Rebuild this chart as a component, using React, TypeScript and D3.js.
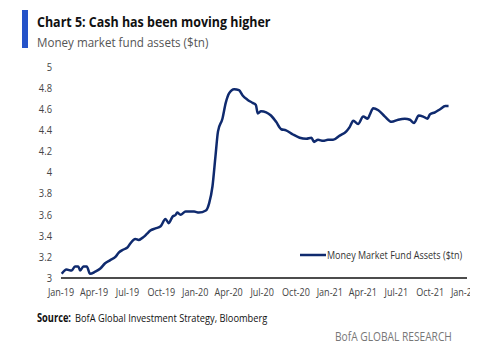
import React, { useEffect, useRef } from "react";
import * as d3 from "d3";

const dates: string[] = [
  "2019-01-03","2019-01-16","2019-01-30","2019-02-08","2019-02-17","2019-02-22","2019-03-03","2019-03-12","2019-03-21",
  "2019-04-04","2019-04-18","2019-05-01","2019-05-15","2019-05-29","2019-06-07","2019-06-20","2019-07-01","2019-07-09",
  "2019-07-22","2019-07-31","2019-08-14","2019-08-23","2019-09-01","2019-09-15","2019-09-29","2019-10-12","2019-10-21",
  "2019-10-31","2019-11-09","2019-11-13","2019-11-22","2019-12-06","2019-12-29","2020-01-11","2020-01-30","2020-02-08",
  "2020-02-17","2020-02-25","2020-03-03","2020-03-15","2020-03-24","2020-04-02","2020-04-16","2020-04-29","2020-05-09",
  "2020-05-22","2020-06-05","2020-06-14","2020-06-19","2020-06-28","2020-07-12","2020-07-25","2020-08-08","2020-08-22",
  "2020-09-04","2020-09-23","2020-10-11","2020-10-29","2020-11-12","2020-11-19","2020-11-30","2020-12-14","2020-12-27",
  "2021-01-10","2021-01-28","2021-02-15","2021-02-24","2021-03-06","2021-03-19","2021-04-02","2021-04-14","2021-04-20",
  "2021-04-29","2021-05-13","2021-05-31","2021-06-18","2021-07-06","2021-07-24","2021-08-07","2021-08-18","2021-08-31",
  "2021-09-12","2021-09-24","2021-09-30","2021-10-14","2021-10-28","2021-11-11","2021-11-20",
];
const assets: number[] = [
  3.04,3.08,3.07,3.11,3.11,3.07,3.11,3.11,3.04,
  3.06,3.09,3.14,3.17,3.20,3.24,3.27,3.29,3.33,
  3.37,3.36,3.39,3.42,3.45,3.47,3.49,3.56,3.52,
  3.58,3.60,3.62,3.60,3.63,3.63,3.62,3.64,3.71,
  3.87,4.15,4.39,4.51,4.66,4.75,4.79,4.78,4.73,
  4.69,4.66,4.64,4.56,4.58,4.57,4.54,4.48,4.41,
  4.40,4.36,4.33,4.32,4.33,4.29,4.31,4.30,4.31,
  4.31,4.35,4.39,4.43,4.49,4.46,4.53,4.51,4.55,
  4.61,4.59,4.53,4.48,4.50,4.51,4.50,4.47,4.54,
  4.53,4.51,4.55,4.57,4.60,4.63,4.63,
];
const yTicks: number[] = [3, 3.2, 3.4, 3.6, 3.8, 4, 4.2, 4.4, 4.6, 4.8, 5];
const xTickDates: string[] = [
  "2019-01-01","2019-04-01","2019-07-01","2019-10-01","2020-01-01","2020-04-01","2020-07-01",
  "2020-10-01","2021-01-01","2021-04-01","2021-07-01","2021-10-01","2022-01-01",
];
const xTickLabels: string[] = [
  "Jan-19","Apr-19","Jul-19","Oct-19","Jan-20","Apr-20","Jul-20","Oct-20","Jan-21","Apr-21","Jul-21","Oct-21","Jan-22",
];
const title = "Chart 5: Cash has been moving higher";
const subtitle = "Money market fund assets ($tn)";
const legendLabel = "Money Market Fund Assets ($tn)";

const W = 500, H = 358;
const NAVY = "#0f2a6e";
const FONT = "'Open Sans', 'Liberation Sans', sans-serif";

export default function App() {
  const ref = useRef<SVGSVGElement>(null);
  const parse = d3.timeParse("%Y-%m-%d");
  const x = d3.scaleTime().domain([parse("2019-01-01")!, parse("2022-01-01")!]).range([61, 464]);
  const y = d3.scaleLinear().domain([3, 5]).range([278, 67]);
  const data = dates.map((d, i) => ({ d: parse(d)!, v: assets[i] }));
  const line = d3.line<{ d: Date; v: number }>().x((p) => x(p.d)).y((p) => y(p.v)).curve(d3.curveMonotoneX);

  useEffect(() => {
    if (!ref.current) return;
    d3.select(ref.current).selectAll<SVGTextElement, unknown>("text[data-c]").each(function () {
      const f = parseFloat(this.getAttribute("data-c") || "1");
      const len = this.getComputedTextLength();
      this.setAttribute("textLength", String(len * f));
      this.setAttribute("lengthAdjust", "spacingAndGlyphs");
    });
  }, []);

  return (
    <svg ref={ref} width={W} height={H} style={{ position: "absolute", left: 0, top: 0, background: "#fff" }} fontFamily={FONT}>
      <defs>
        <clipPath id="plotclip"><rect x={0} y={0} width={470} height={H} /></clipPath>
      </defs>
      <rect x={22} y={10} width={6} height={38} fill="#2553c9" />
      <text x={37} y={27} fontSize={15} fontWeight="bold" fill="#111" data-c="0.83">{title}</text>
      <text x={37} y={46.5} fontSize={13.5} fill="#555" data-c="0.86">{subtitle}</text>

      {yTicks.map((t) => (
        <text key={t} x={52} y={y(t)} dy="0.35em" textAnchor="end" fontSize={11} fill="#444" data-c="0.85">{String(t)}</text>
      ))}
      <g clipPath="url(#plotclip)">
        {xTickDates.map((t, i) => (
          <text key={t} x={x(parse(t)!)} y={296} textAnchor="middle" fontSize={11} fill="#444" data-c="0.82">{xTickLabels[i]}</text>
        ))}
      </g>
      <line x1={61} x2={467} y1={y(3)} y2={y(3)} stroke="#111" strokeWidth={1.5} />
      <path d={line(data) || ""} fill="none" stroke={NAVY} strokeWidth={2.5} strokeLinejoin="round" />

      <line x1={300} x2={326} y1={255} y2={255} stroke={NAVY} strokeWidth={2.5} />
      <text x={327} y={255} dy="0.35em" fontSize={11} fill="#333" data-c="0.82">{legendLabel}</text>

      <text x={37} y={322} fontSize={11.5} fill="#111" data-c="0.82">
        <tspan fontWeight="bold">Source:</tspan>
        <tspan dx={5}>BofA Global Investment Strategy, Bloomberg</tspan>
      </text>
      <text x={335} y={341} fontSize={12} fill="#777" data-c="0.85">BofA GLOBAL RESEARCH</text>
    </svg>
  );
}
